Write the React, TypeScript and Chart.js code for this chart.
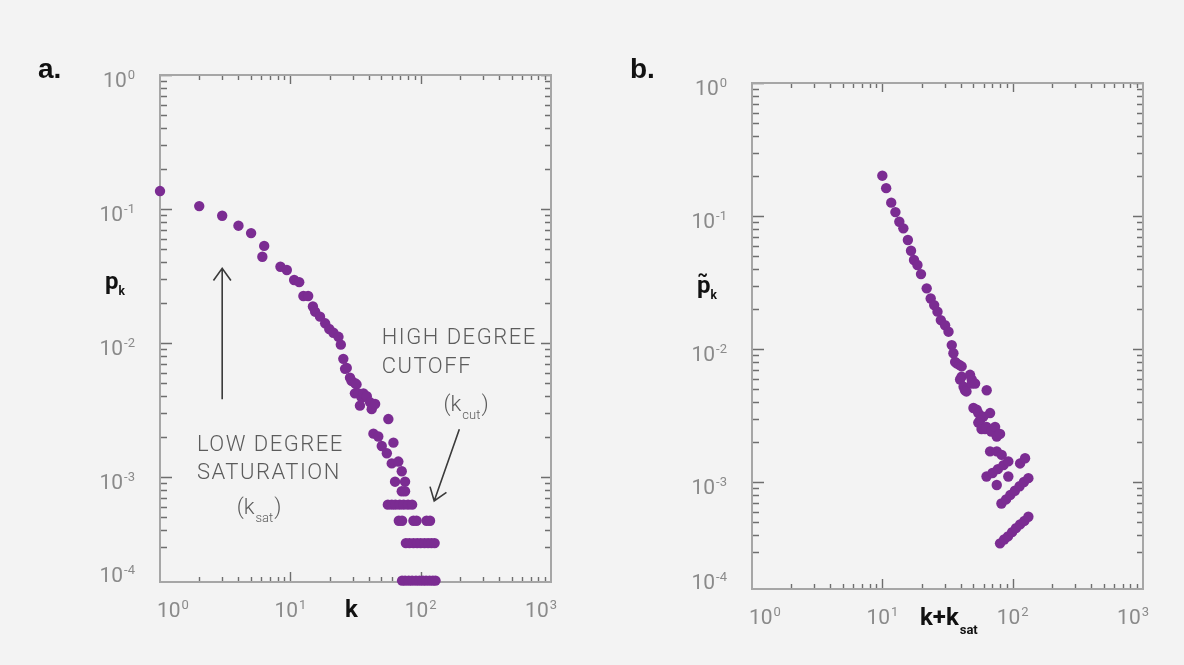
import React, { useEffect, useRef } from "react";
import { Chart, registerables } from "chart.js";

Chart.register(...registerables);

// ---------- data: panel a (k, p_k) ----------
const kA = [
  1, 2, 3, 4, 5, 6.3, 6.1, 8.4, 9.4, 10.7,
  11.7, 12.6, 13.7, 14.9, 15.5, 16.9, 18.5, 19.9, 21.4, 23.4,
  24.4, 25.5, 26.3, 27.1, 28.7, 29.5, 31.4, 32.2, 31.3, 33.3,
  35.3, 36.4, 38.6, 34.2, 40.9, 42.1, 44.7, 56.5, 43.4, 47.3,
  50.3, 55, 61.8, 60, 67.4, 71.6, 63.6, 75.9, 71.6, 75.9,
  56, 60, 64, 69, 74, 80, 86,
  68, 72, 88, 93, 111, 118,
  77, 82, 88, 94, 100, 107, 114, 121, 128,
  72, 76, 81, 86, 92, 98, 104, 110, 117, 124, 130,
];
const pA = [
  0.136, 0.105, 0.089, 0.075, 0.066, 0.053, 0.044, 0.037, 0.035, 0.0295,
  0.0284, 0.0224, 0.0224, 0.0187, 0.0171, 0.0157, 0.014, 0.0127, 0.0119, 0.0111,
  0.0097, 0.0076, 0.0064, 0.0065, 0.0055, 0.0052, 0.005, 0.0049, 0.0042, 0.0042,
  0.0039, 0.0042, 0.004, 0.0034, 0.0036, 0.0032, 0.0035, 0.0027, 0.0021, 0.002,
  0.0017, 0.0015, 0.0018, 0.00126, 0.0013, 0.0011, 0.00092, 0.00092, 0.00078, 0.00078,
  0.00062, 0.00062, 0.00062, 0.00062, 0.00062, 0.00062, 0.00062,
  0.00047, 0.00047, 0.00047, 0.00047, 0.00047, 0.00047,
  0.00032, 0.00032, 0.00032, 0.00032, 0.00032, 0.00032, 0.00032, 0.00032, 0.00032,
  0.000168, 0.000168, 0.000168, 0.000168, 0.000168, 0.000168, 0.000168, 0.000168, 0.000168, 0.000168, 0.000168,
];

// ---------- data: panel b (k + k_sat, rescaled p_k) ----------
const kB = [
  10, 10.7, 11.7, 12.6, 13.5, 14.5, 15.7, 16.6, 17.5, 18.6,
  19.8, 21.9, 23.5, 25, 26.5, 28.1, 30.3, 32.2, 34.1, 35.1,
  36.2, 37.2, 39, 40.6, 40.6, 39.5, 42, 43.1, 44.2, 47.1,
  48.5, 48.5, 51.5, 63.2, 50, 53, 54.5, 59.5, 67.1, 56.2,
  54.5, 57.7, 61.4, 63, 68.5, 73.3, 75.5, 80, 67.1, 75.5,
  82.4,
  63, 70, 77, 85, 92.6,
  75.5, 92.6, 114, 124.5,
  82, 89, 96, 104, 113, 122, 132,
  80, 86, 92, 99, 106, 114, 123, 132,
];
const pB = [
  0.201, 0.162, 0.126, 0.107, 0.0906, 0.0808, 0.066, 0.0548, 0.0467, 0.0428,
  0.0366, 0.0286, 0.024, 0.0214, 0.0191, 0.0165, 0.0151, 0.0135, 0.0107, 0.0093,
  0.008, 0.0078, 0.0076, 0.0074, 0.0062, 0.0059, 0.0052, 0.0049, 0.0048, 0.0064,
  0.0059, 0.0055, 0.0055, 0.0049, 0.0036, 0.0035, 0.0033, 0.0031, 0.0033, 0.0029,
  0.0028, 0.0025, 0.0025, 0.0026, 0.0024, 0.0026, 0.0022, 0.0023, 0.0017, 0.0017,
  0.0016,
  0.0011, 0.00117, 0.00125, 0.00134, 0.00143,
  0.00095, 0.0011, 0.00138, 0.00151,
  0.00069, 0.00074, 0.0008, 0.00086, 0.00093, 0.001, 0.00107,
  0.000346, 0.00037, 0.00039, 0.00042, 0.00045, 0.00048, 0.00051, 0.000548,
];

// ---------- axes ----------
const X_MIN = 1;
const X_MAX = 1000;
const Y_MAX = 1;
const Y_MIN_A = 1.64e-4;
const Y_MIN_B = 1.57e-4;
const X_TICK_VALUES = [1, 10, 100, 1000];
const X_TICK_EXPS = ["0", "1", "2", "3"];
const Y_TICK_VALUES = [1, 0.1, 0.01, 0.001, 0.0001];
const Y_TICK_EXPS = ["0", "-1", "-2", "-3", "-4"];

// ---------- annotations (data coordinates) ----------
const SAT_ARROW = { from: [3, 0.0038], to: [3, 0.036] };
const SAT_LINES = ["LOW DEGREE", "SATURATION"];
const SAT_TEXT_AT = [[1.92, 0.00156], [1.92, 0.00096]];
const SAT_SYMBOL_AT = [5.75, 0.000527];
const CUT_LINES = ["HIGH DEGREE", "CUTOFF"];
const CUT_TEXT_AT = [[50.3, 0.00986], [50.3, 0.00598]];
const CUT_SYMBOL_AT = [223, 0.00311];
const CUT_ARROW = { from: [198, 0.00227], to: [127, 0.00066] };

const BG = "#f3f3f3";
const POINT_COLOR = "#7b2c92";
const FRAME_COLOR = "#a6a6a6";
const TICK_COLOR = "#6e6e6e";
const TICK_LABEL_COLOR = "#8a8a8a";
const NOTE_COLOR = "#5c5c5c";
const FONT = "Roboto, 'Open Sans', sans-serif";

function drawPow(ctx: CanvasRenderingContext2D, exp: string, x: number, baseline: number, mode: "right" | "center", minL = -1e9, maxR = 1e9) {
  ctx.font = `400 21px ${FONT}`;
  const wb = ctx.measureText("10").width;
  ctx.font = `400 13px ${FONT}`;
  const we = ctx.measureText(exp).width;
  const w = wb + 1 + we;
  let lx = mode === "right" ? x - w : x - w / 2;
  if (lx < minL) lx = minL;
  if (lx + w > maxR) lx = maxR - w;
  ctx.fillStyle = TICK_LABEL_COLOR;
  ctx.textAlign = "left";
  ctx.textBaseline = "alphabetic";
  ctx.font = `400 21px ${FONT}`;
  ctx.fillText("10", lx, baseline);
  ctx.font = `400 13px ${FONT}`;
  ctx.fillText(exp, lx + wb + 1, baseline - 8);
}

function drawArrow(ctx: CanvasRenderingContext2D, x1: number, y1: number, x2: number, y2: number) {
  ctx.save();
  ctx.strokeStyle = "#3a3a3a";
  ctx.lineWidth = 1.6;
  ctx.beginPath();
  ctx.moveTo(x1, y1);
  ctx.lineTo(x2, y2);
  const a = Math.atan2(y2 - y1, x2 - x1);
  const L = 15;
  const s = 0.62;
  ctx.moveTo(x2 + L * Math.cos(a + Math.PI - s), y2 + L * Math.sin(a + Math.PI - s));
  ctx.lineTo(x2, y2);
  ctx.lineTo(x2 + L * Math.cos(a + Math.PI + s), y2 + L * Math.sin(a + Math.PI + s));
  ctx.stroke();
  ctx.restore();
}

function drawSubText(ctx: CanvasRenderingContext2D, main: string, sub: string, cx: number, baseline: number, withParens: boolean) {
  ctx.save();
  ctx.fillStyle = NOTE_COLOR;
  ctx.textBaseline = "alphabetic";
  ctx.textAlign = "left";
  const big = `300 22px ${FONT}`;
  const small = `300 13px ${FONT}`;
  const open = withParens ? "(" : "";
  const close = withParens ? ")" : "";
  ctx.font = big;
  const w1 = ctx.measureText(open + main).width;
  const w3 = ctx.measureText(close).width;
  ctx.font = small;
  const w2 = ctx.measureText(sub).width;
  let x = cx - (w1 + w2 + w3 + 2) / 2;
  ctx.font = big;
  ctx.fillText(open + main, x, baseline);
  x += w1 + 1;
  ctx.font = small;
  ctx.fillText(sub, x, baseline + 8);
  x += w2 + 1;
  ctx.font = big;
  ctx.fillText(close, x, baseline);
  ctx.restore();
}

type PanelOpts = {
  letter: string;
  yMin: number;
  yTitle: "p" | "pt";
  xTitle: "k" | "ksat";
  notes: boolean;
};

function makePlugin(o: PanelOpts) {
  return {
    id: "decor",
    beforeDraw(chart: any) {
      const { ctx, width, height } = chart;
      ctx.save();
      ctx.fillStyle = BG;
      ctx.fillRect(0, 0, width, height);
      ctx.restore();
    },
    beforeDatasetsDraw(chart: any) {
      const { ctx, chartArea } = chart;
      const { left, right, top, bottom } = chartArea;
      const xs = chart.scales.x;
      const ys = chart.scales.y;
      ctx.save();
      ctx.strokeStyle = TICK_COLOR;
      ctx.lineWidth = 1.4;
      ctx.beginPath();
      for (let d = 0; d < 3; d++) {
        for (let m = 1; m <= 9; m++) {
          const v = m * Math.pow(10, d);
          if (v <= X_MIN || v >= X_MAX) continue;
          const px = Math.round(xs.getPixelForValue(v)) + 0.5;
          const major = m === 1;
          ctx.moveTo(px, bottom);
          ctx.lineTo(px, bottom - (major ? 10 : 5));
          ctx.moveTo(px, top);
          ctx.lineTo(px, top + (major ? 9 : 5));
        }
      }
      for (let d = -4; d <= 0; d++) {
        for (let m = 1; m <= 9; m++) {
          const v = m * Math.pow(10, d);
          if (v > Y_MAX * 1.0001 || v < o.yMin) continue;
          const py = Math.round(ys.getPixelForValue(v)) + 0.5;
          const major = m === 1;
          if (!major && bottom - py < 16) continue;
          ctx.moveTo(left, py);
          ctx.lineTo(left + (major ? 12 : 7), py);
          ctx.moveTo(right, py);
          ctx.lineTo(right - (major ? 10 : 6), py);
        }
      }
      ctx.stroke();
      ctx.strokeStyle = FRAME_COLOR;
      ctx.lineWidth = 2;
      ctx.strokeRect(left, top, right - left, bottom - top);
      ctx.restore();
    },
    afterDraw(chart: any) {
      const { ctx, chartArea } = chart;
      const { left, right, top, bottom } = chartArea;
      const xs = chart.scales.x;
      const ys = chart.scales.y;
      ctx.save();
      Y_TICK_VALUES.forEach((v, i) => {
        const py = ys.getPixelForValue(Math.max(v, o.yMin));
        drawPow(ctx, Y_TICK_EXPS[i], left - 25, Math.min(py + 12, bottom), "right");
      });
      X_TICK_VALUES.forEach((v, i) => {
        const px = xs.getPixelForValue(v);
        drawPow(ctx, X_TICK_EXPS[i], px, bottom + 35, "center", left - 3, right + 6);
      });
      ctx.fillStyle = "#111";
      ctx.textAlign = "left";
      ctx.textBaseline = "alphabetic";
      ctx.font = `bold 28px 'Liberation Sans', Arial, sans-serif`;
      ctx.fillText(o.letter, left - 122, 78);
      const yb = top + (o.yTitle === "p" ? 214 : 210);
      ctx.font = `bold 24px ${FONT}`;
      ctx.fillText("p", left - 55, yb);
      const pw = ctx.measureText("p").width;
      if (o.yTitle === "pt") {
        ctx.font = `bold 16px ${FONT}`;
        ctx.fillText("~", left - 55 + 0.5, yb - 13);
      }
      ctx.font = `bold 12px ${FONT}`;
      ctx.fillText("k", left - 55 + pw, yb + 6);
      if (o.xTitle === "k") {
        ctx.font = `bold 24px ${FONT}`;
        ctx.fillText("k", left + 185, bottom + 35);
      } else {
        ctx.font = `bold 24px ${FONT}`;
        ctx.fillText("k+k", left + 168, bottom + 36);
        const w = ctx.measureText("k+k").width;
        ctx.font = `bold 13px ${FONT}`;
        ctx.fillText("sat", left + 168 + w + 1, bottom + 45);
      }
      if (o.notes) {
        const P = (d: number[]) => [xs.getPixelForValue(d[0]), ys.getPixelForValue(d[1])];
        const [a1x, a1y] = P(SAT_ARROW.from);
        const [a2x, a2y] = P(SAT_ARROW.to);
        drawArrow(ctx, a1x, a1y, a2x, a2y);
        const [c1x, c1y] = P(CUT_ARROW.from);
        const [c2x, c2y] = P(CUT_ARROW.to);
        drawArrow(ctx, c1x, c1y, c2x, c2y);
        ctx.fillStyle = NOTE_COLOR;
        ctx.font = `300 22px ${FONT}`;
        ctx.textAlign = "left";
        (ctx as any).letterSpacing = "1.5px";
        SAT_LINES.forEach((t, i) => {
          const [tx, ty] = P(SAT_TEXT_AT[i]);
          ctx.fillText(t, tx, ty);
        });
        CUT_LINES.forEach((t, i) => {
          const [tx, ty] = P(CUT_TEXT_AT[i]);
          ctx.fillText(t, tx, ty);
        });
        (ctx as any).letterSpacing = "0px";
        const [sx, sy] = P(SAT_SYMBOL_AT);
        drawSubText(ctx, "k", "sat", sx, sy, true);
        const [kx, ky] = P(CUT_SYMBOL_AT);
        drawSubText(ctx, "k", "cut", kx, ky, true);
      }
      ctx.restore();
    },
  };
}

function makeConfig(xs: number[], ys: number[], o: PanelOpts, padding: any): any {
  return {
    type: "scatter",
    data: {
      datasets: [
        {
          data: xs.map((x, i) => ({ x, y: ys[i] })),
          backgroundColor: POINT_COLOR,
          borderWidth: 0,
          pointRadius: 5.2,
          clip: false,
        },
      ],
    },
    options: {
      animation: false,
      responsive: false,
      devicePixelRatio: 1,
      layout: { padding },
      plugins: { legend: { display: false }, tooltip: { enabled: false } },
      scales: {
        x: { type: "logarithmic", min: X_MIN, max: X_MAX, display: false },
        y: { type: "logarithmic", min: o.yMin, max: Y_MAX, display: false },
      },
    },
    plugins: [makePlugin(o)],
  };
}

export default function App() {
  const refA = useRef<HTMLCanvasElement>(null);
  const refB = useRef<HTMLCanvasElement>(null);
  useEffect(() => {
    const a = new Chart(
      refA.current!,
      makeConfig(kA, pA, { letter: "a.", yMin: Y_MIN_A, yTitle: "p", xTitle: "k", notes: true }, { left: 160, top: 75, right: 41, bottom: 83 })
    );
    const b = new Chart(
      refB.current!,
      makeConfig(kB, pB, { letter: "b.", yMin: Y_MIN_B, yTitle: "pt", xTitle: "ksat", notes: false }, { left: 160, top: 83, right: 41, bottom: 76 })
    );
    return () => {
      a.destroy();
      b.destroy();
    };
  }, []);
  return (
    <div style={{ position: "fixed", left: 0, top: 0, width: 1184, height: 665, background: BG }}>
      <canvas ref={refA} width={592} height={665} style={{ position: "absolute", left: 0, top: 0 }} />
      <canvas ref={refB} width={592} height={665} style={{ position: "absolute", left: 592, top: 0 }} />
    </div>
  );
}
